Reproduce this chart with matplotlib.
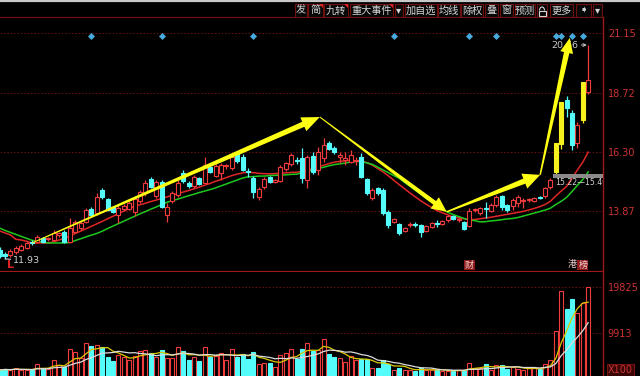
import numpy as np
import pandas as pd
import matplotlib
matplotlib.use("Agg")
import matplotlib.pyplot as plt
from matplotlib.patches import Rectangle, Polygon, Arc
from matplotlib.transforms import IdentityTransform, blended_transform_factory

# ---------------- data ----------------
opens = [12.29, 12.13, 12.09, 12.21, 12.29, 12.37, 12.62, 12.62, 12.78, 12.74,
         12.70, 12.91, 13.03, 12.62, 13.03, 13.19, 13.44, 13.97, 13.80, 14.74,
         14.37, 14.05, 13.72, 13.97, 13.97, 13.84, 14.29, 14.62, 15.19, 14.50,
         15.07, 13.72, 14.29, 14.54, 15.44, 15.03, 14.91, 15.23, 15.03, 15.68,
         15.31, 15.44, 15.72, 15.64, 16.25, 16.09, 15.52, 15.23, 14.46, 14.86,
         15.27, 15.07, 15.11, 15.60, 15.80, 15.97, 16.05, 15.15, 16.13, 15.56,
         16.05, 16.66, 16.46, 16.09, 15.97, 15.88, 15.93, 16.09, 15.19, 14.42,
         14.82, 14.74, 13.84, 13.44, 13.35, 13.07, 13.31, 13.35, 13.31, 13.07,
         13.23, 13.40, 13.35, 13.52, 13.68, 13.52, 13.44, 13.27, 13.93, 13.80,
         14.01, 13.88, 14.13, 14.50, 14.13, 14.09, 14.21, 14.29, 14.33, 14.29,
         14.46, 14.50, 14.86, 15.48, 16.62, 18.42, 17.89, 16.66, 17.60, 18.74]
highs = [12.41, 12.21, 12.33, 12.46, 12.54, 12.66, 12.70, 12.91, 12.82, 12.82,
         13.11, 13.03, 13.11, 13.60, 13.52, 13.48, 14.01, 14.05, 14.62, 14.82,
         14.42, 14.09, 14.13, 14.17, 14.29, 14.50, 14.74, 15.15, 15.27, 15.15,
         15.15, 14.21, 14.70, 15.15, 15.56, 15.11, 15.35, 15.27, 16.09, 15.72,
         15.80, 15.84, 15.80, 16.25, 16.33, 16.21, 15.64, 15.31, 14.86, 15.27,
         15.31, 15.19, 15.76, 15.88, 16.25, 16.09, 16.46, 16.17, 16.29, 16.50,
         16.86, 16.74, 16.54, 16.29, 16.29, 16.37, 16.09, 16.25, 15.23, 14.82,
         14.86, 14.82, 13.93, 13.60, 13.40, 13.23, 13.44, 13.44, 13.35, 13.31,
         13.44, 13.52, 13.52, 13.72, 13.72, 13.64, 13.48, 14.01, 14.01, 14.05,
         14.25, 14.21, 14.54, 14.54, 14.17, 14.42, 14.54, 14.42, 14.42, 14.46,
         14.50, 14.86, 15.22, 16.66, 18.33, 18.58, 18.01, 17.52, 19.14, 20.66]
lows = [11.97, 11.93, 12.01, 12.13, 12.25, 12.33, 12.50, 12.58, 12.58, 12.66,
        12.66, 12.82, 12.58, 12.58, 12.99, 13.11, 13.40, 13.68, 13.72, 14.37,
        13.88, 13.80, 13.40, 13.88, 13.93, 13.68, 14.21, 14.50, 14.82, 14.42,
        14.01, 13.44, 14.21, 14.46, 15.03, 14.82, 14.82, 14.95, 15.03, 15.44,
        15.27, 15.15, 15.60, 15.56, 15.84, 15.52, 15.27, 14.42, 14.33, 14.78,
        15.03, 15.03, 15.07, 15.52, 15.72, 15.80, 15.03, 14.82, 15.40, 15.35,
        15.88, 16.37, 16.21, 15.84, 15.76, 15.84, 15.76, 15.23, 14.54, 14.33,
        14.54, 13.72, 13.19, 13.40, 12.91, 13.03, 13.23, 13.23, 12.82, 13.03,
        13.19, 13.23, 13.31, 13.44, 13.52, 13.44, 13.11, 13.23, 13.84, 13.72,
        13.60, 13.84, 14.05, 13.93, 13.84, 13.93, 14.05, 14.01, 14.25, 14.25,
        14.37, 14.42, 14.78, 15.40, 16.41, 17.72, 16.37, 16.46, 17.48, 18.66]
closes = [12.05, 12.05, 12.25, 12.37, 12.46, 12.58, 12.58, 12.82, 12.62, 12.78,
          12.99, 12.99, 12.62, 13.19, 13.44, 13.40, 13.93, 13.72, 14.46, 14.46,
          13.93, 13.84, 14.01, 14.09, 14.21, 14.37, 14.66, 15.03, 14.86, 15.07,
          14.05, 14.05, 14.62, 15.03, 15.11, 14.91, 15.27, 14.99, 15.76, 15.48,
          15.72, 15.76, 15.76, 16.09, 15.93, 15.56, 15.48, 14.66, 14.78, 15.19,
          15.07, 15.15, 15.68, 15.84, 16.17, 15.93, 15.23, 16.09, 15.48, 16.29,
          16.58, 16.41, 16.29, 16.17, 16.05, 16.17, 15.97, 15.27, 14.62, 14.74,
          14.62, 13.80, 13.31, 13.56, 12.99, 13.19, 13.35, 13.31, 13.03, 13.27,
          13.40, 13.35, 13.48, 13.68, 13.56, 13.56, 13.15, 13.88, 13.97, 14.01,
          13.97, 14.13, 14.46, 14.05, 13.93, 14.33, 14.46, 14.33, 14.37, 14.42,
          14.42, 14.82, 15.15, 16.66, 18.33, 18.09, 16.58, 17.40, 19.14, 19.23]
volumes = [1940, 2155, 1940, 2370, 1940, 1940, 1940, 3230, 2370, 2155,
           4095, 3017, 2586, 6465, 5819, 4526, 7758, 7112, 7327, 6896,
           4741, 3879, 5172, 4741, 4095, 4957, 6034, 6250, 5603, 4741,
           6250, 4526, 4526, 6896, 6034, 4095, 4741, 3879, 6896, 4741,
           4957, 5603, 4095, 6465, 4741, 5388, 4310, 5819, 3230, 3448,
           3448, 2586, 5172, 5603, 6465, 4310, 6465, 7758, 6034, 6250,
           8620, 5388, 4741, 4526, 3664, 4957, 4095, 4310, 4310, 2370,
           2370, 4095, 3230, 1940, 2370, 1940, 1940, 1724, 2370, 1940,
           1940, 1940, 1724, 1724, 1724, 1940, 1940, 3448, 2370, 2370,
           3230, 1940, 3017, 3017, 2155, 2586, 2155, 1940, 2370, 2370,
           2155, 3230, 4095, 10344, 18964, 15085, 17240, 14223, 16378, 19825]
ma_short = [13.07, 12.99, 12.91, 12.73, 12.70, 12.65, 12.58, 12.58, 12.58, 12.58,
            12.63, 12.70, 12.77, 12.85, 12.97, 13.06, 13.16, 13.26, 13.36, 13.46,
            13.57, 13.67, 13.78, 13.88, 13.99, 14.08, 14.14, 14.20, 14.27, 14.33,
            14.40, 14.46, 14.53, 14.59, 14.66, 14.72, 14.79, 14.86, 14.94, 15.01,
            15.10, 15.17, 15.25, 15.33, 15.39, 15.44, 15.47, 15.45, 15.42, 15.41,
            15.40, 15.41, 15.43, 15.44, 15.46, 15.47, 15.49, 15.55, 15.62, 15.69,
            15.75, 15.82, 15.88, 15.91, 15.93, 15.96, 15.93, 15.90, 15.86, 15.76,
            15.62, 15.48, 15.32, 15.14, 14.96, 14.79, 14.62, 14.46, 14.30, 14.16,
            14.03, 13.90, 13.81, 13.73, 13.64, 13.60, 13.57, 13.52, 13.54, 13.57,
            13.60, 13.63, 13.67, 13.71, 13.75, 13.79, 13.83, 13.87, 13.93, 13.99,
            14.06, 14.15, 14.28, 14.50, 14.70, 14.89, 15.23, 15.56, 15.88, 16.29]
ma_long = [13.19, 13.09, 13.01, 12.93, 12.85, 12.77, 12.69, 12.65, 12.62, 12.58,
           12.58, 12.58, 12.58, 12.60, 12.68, 12.75, 12.83, 12.90, 12.97, 13.06,
           13.17, 13.27, 13.37, 13.47, 13.57, 13.67, 13.77, 13.86, 13.96, 14.05,
           14.15, 14.24, 14.31, 14.37, 14.44, 14.51, 14.57, 14.64, 14.70, 14.76,
           14.83, 14.91, 14.99, 15.07, 15.15, 15.23, 15.28, 15.29, 15.31, 15.31,
           15.33, 15.34, 15.35, 15.36, 15.38, 15.39, 15.44, 15.50, 15.56, 15.62,
           15.67, 15.73, 15.78, 15.81, 15.84, 15.88, 15.91, 15.90, 15.85, 15.79,
           15.68, 15.56, 15.45, 15.33, 15.22, 15.05, 14.89, 14.73, 14.57, 14.40,
           14.26, 14.12, 13.97, 13.83, 13.74, 13.66, 13.58, 13.52, 13.49, 13.44,
           13.45, 13.48, 13.50, 13.53, 13.56, 13.58, 13.62, 13.68, 13.74, 13.80,
           13.86, 13.92, 14.00, 14.15, 14.28, 14.44, 14.68, 14.93, 15.17, 15.48]

price_ticks = [21.15, 18.72, 16.30, 13.87]
price_labels = ["21.15", "18.72", "16.30", "13.87"]
volume_ticks = [19825, 9913]
volume_labels = ["19825", "9913"]
volume_unit = "X100"

info_days = [17, 30, 47, 73, 87, 92, 103, 104, 106, 108]
event_days = [87, 106, 108]
event_texts = ["财", "港", "榜"]
gap_low, gap_high, gap_day = 15.22, 15.40, 103
gap_text = "15.22\u201415.40"
low_day, low_text = 1, "11.93"
high_day, high_text = 109, "20.66"
# trend arrows drawn by the author: chain of (day, price) points
trend_points = [(6.0, 12.58), (59.3, 17.72), (82.8, 13.85), (100.1, 15.36), (105.6, 20.95)]
toolbar_items = ["发", "简", "九转", "重大事件", "\u25be", "加自选", "均线", "除权",
                 "叠", "窗", "预测", "", "更多", "\u27a7", "\u25be"]

# ---------------- style ----------------
RED = "#f03c3c"
CYAN = "#54fcfc"
YEL = "#f5f01e"
GRID = "#701010"
AXRED = "#a01818"
LBL = "#cc3434"
CJK = ["Noto Sans CJK SC", "DejaVu Sans"]

W, H = 640, 376
fig = plt.figure(figsize=(6.4, 3.76), dpi=100, facecolor="black")
PX_R = 603
P_TOP, P_BOT = 17, 271
V_TOP = 272
ax1 = fig.add_axes([0, (H - P_BOT) / H, PX_R / W, (P_BOT - P_TOP) / H])
ax2 = fig.add_axes([0, 0, PX_R / W, (H - V_TOP) / H])
for a in (ax1, ax2):
    a.set_facecolor("black")

n = len(closes)
x = np.arange(n)
o = np.array(opens); c = np.array(closes); h = np.array(highs); l = np.array(lows)
prev = np.r_[np.nan, c[:-1]]
limit_up = c >= prev * 1.095
up = c >= o

xlim = (0.074, 111.74)
ax1.set_xlim(*xlim); ax2.set_xlim(*xlim)
ax1.set_ylim(11.436, 21.803)
ax2.set_ylim(645, 23057)

# grid
for p in price_ticks:
    ax1.axhline(p, color=GRID, lw=0.7, ls=(0, (1.5, 2)), zorder=0)
for v in volume_ticks:
    ax2.axhline(v, color=GRID, lw=0.7, ls=(0, (1.5, 2)), zorder=0)

# moving averages
ax1.plot(x, ma_short, color="#e02626", lw=1.1, zorder=2)
ax1.plot(x, ma_long, color="#1ec81e", lw=1.1, zorder=2)

# candles
edge = np.where(limit_up, YEL, np.where(up, RED, CYAN))
face = np.where(limit_up, YEL, np.where(up, "black", CYAN))
ax1.vlines(x, l, h, colors=edge, lw=0.9, zorder=3)
body_h = np.maximum(np.abs(c - o), 0.012)
ax1.bar(x, body_h, bottom=np.minimum(o, c), width=0.72, color=face,
        edgecolor=edge, linewidth=0.8, zorder=4)

# info-mine diamonds
tr_top = blended_transform_factory(ax1.transData, ax1.transAxes)
ax1.scatter(info_days, [(P_BOT - 36) / (P_BOT - P_TOP)] * len(info_days),
            marker="D", s=13, color="#46aadc", transform=tr_top, zorder=5, linewidths=0)

# event marks at bottom
for d, t in zip(event_days, event_texts):
    bb = None if t == "港" else dict(facecolor="#8c1a1a", edgecolor="none", pad=0.6)
    ax1.text(d, (P_BOT - 265) / (P_BOT - P_TOP), t, transform=tr_top, ha="center",
             va="center", fontsize=6.5, color="#f5d2d2", family=CJK, bbox=bb, zorder=6)

# gap marker
ax1.add_patch(Rectangle((gap_day - 0.45, gap_low), xlim[1] - gap_day + 1, gap_high - gap_low,
                        facecolor="#8a8a8a", edgecolor="none", zorder=5))
ax1.text(gap_day - 0.1, gap_low - 0.17, gap_text, fontsize=5.6, color="#d2d2d2",
         ha="left", va="center", clip_on=True, zorder=6)

# extreme labels
ax1.annotate(low_text, xy=(low_day, lows[low_day]), xytext=(6, -1), textcoords="offset points",
             ha="left", va="center", fontsize=6.8, color="#d0d0d0", zorder=6,
             arrowprops=dict(arrowstyle="-", color="#d0d0d0", lw=0.8, shrinkA=0, shrinkB=0))
ax1.annotate(high_text, xy=(high_day, highs[high_day]), xytext=(-7, 0), textcoords="offset points",
             ha="right", va="center", fontsize=6.8, color="#c8c8c8", zorder=6,
             arrowprops=dict(arrowstyle="->", color="#c8c8c8", lw=0.7, shrinkA=0, shrinkB=1,
                             mutation_scale=5))

# axis cosmetics
for a in (ax1, ax2):
    a.yaxis.tick_right()
    a.set_xticks([])
    a.tick_params(axis="y", length=0, pad=3.5, labelsize=7, labelcolor=LBL)
    for s in a.spines.values():
        s.set_visible(False)
    a.spines["right"].set_visible(True)
    a.spines["right"].set_color(AXRED)
    a.spines["right"].set_linewidth(1.0)
ax1.spines["top"].set_visible(True); ax1.spines["top"].set_color("#7a1010")
ax1.spines["bottom"].set_visible(True); ax1.spines["bottom"].set_color(AXRED)
ax1.set_yticks(price_ticks, price_labels)
ax2.set_yticks(volume_ticks, volume_labels)

# volume
vface = np.where(up, "black", CYAN)
vedge = np.where(up, RED, CYAN)
ax2.bar(x, volumes, width=0.72, color=vface, edgecolor=vedge, linewidth=0.8, zorder=3)
vs = pd.Series(volumes, dtype=float)
ax2.plot(x, vs.rolling(5, min_periods=1).mean(), color="#dcc800", lw=0.9, zorder=4)
ax2.plot(x, vs.rolling(10, min_periods=1).mean(), color="#dcdcdc", lw=0.9, zorder=4)
tr_v = blended_transform_factory(ax2.transAxes, ax2.transData)
ax2.text(1.008, 1900, volume_unit, transform=tr_v, fontsize=7, color=LBL, ha="left",
         va="center", clip_on=False,
         bbox=dict(facecolor="#3a0404", edgecolor="#8c1414", pad=0.6, lw=0.6))


# tapered trend arrows (display pixels)
def trend_arrow(p0, p1, w0, w1, hw, hl):
    (x0, y0), (x1, y1) = ax1.transData.transform([p0, p1])
    dx, dy = x1 - x0, y1 - y0
    L = np.hypot(dx, dy)
    ux, uy = dx / L, dy / L
    nx, ny = -uy, ux
    bx, by = x1 - ux * hl, y1 - uy * hl
    pts = [(x0 + nx * w0 / 2, y0 + ny * w0 / 2), (bx + nx * w1 / 2, by + ny * w1 / 2),
           (bx + nx * hw / 2, by + ny * hw / 2), (x1, y1),
           (bx - nx * hw / 2, by - ny * hw / 2), (bx - nx * w1 / 2, by - ny * w1 / 2),
           (x0 - nx * w0 / 2, y0 - ny * w0 / 2)]
    fig.add_artist(Polygon(pts, closed=True, facecolor="#ffff14", edgecolor="none",
                           transform=IdentityTransform(), zorder=3))


arrow_sizes = [(1.0, 5.5, 15, 18), (1.0, 4.5, 14, 15), (1.5, 5.5, 16, 17), (1.5, 5.5, 13, 15)]
for k, (w0, w1, hw, hl) in enumerate(arrow_sizes):
    trend_arrow(trend_points[k], trend_points[k + 1], w0, w1, hw, hl)

# overlay in pixel coordinates: toolbar and marks
ov = fig.add_axes([0, 0, 1, 1], zorder=10)
ov.set_xlim(0, W); ov.set_ylim(H, 0); ov.axis("off"); ov.patch.set_alpha(0)
ov.plot([0, W], [0.6, 0.6], color="#c8c8c8", lw=1.6)
boxes = [(295, 307), (308, 323), (324, 348), (350, 393), (395, 403), (405, 437), (438, 460),
         (461, 483), (485, 498), (500, 513), (515, 535), (537, 547), (550, 573), (576, 591),
         (593, 602)]
for (b0, b1), t in zip(boxes, toolbar_items):
    ov.add_patch(Rectangle((b0, 3.5), b1 - b0, 13.5, facecolor="#080808",
                           edgecolor="#6e1010", lw=0.8))
    if t:
        ov.text((b0 + b1) / 2, 10.5, t, ha="center", va="center", fontsize=7.3,
                color="#d6d6d6", family=CJK)
for (b0, b1) in [boxes[1], boxes[2], boxes[3]]:
    ov.add_patch(Polygon([(b1 - 4, 3.5), (b1, 3.5), (b1, 7.5)], closed=True,
                         facecolor="#e02020", edgecolor="none"))
# lock icon
ov.add_patch(Rectangle((538.5, 10.5), 7, 5.5, facecolor="none", edgecolor="#d6d6d6", lw=0.8))
ov.add_patch(Arc((542, 10.5), 5, 7, theta1=180, theta2=360, color="#d6d6d6", lw=0.8))
ov.text(10, 265, "L", ha="center", va="center", fontsize=8, color="#e02020", fontweight="bold")

fig.savefig("out.png", dpi=100, facecolor="black")
